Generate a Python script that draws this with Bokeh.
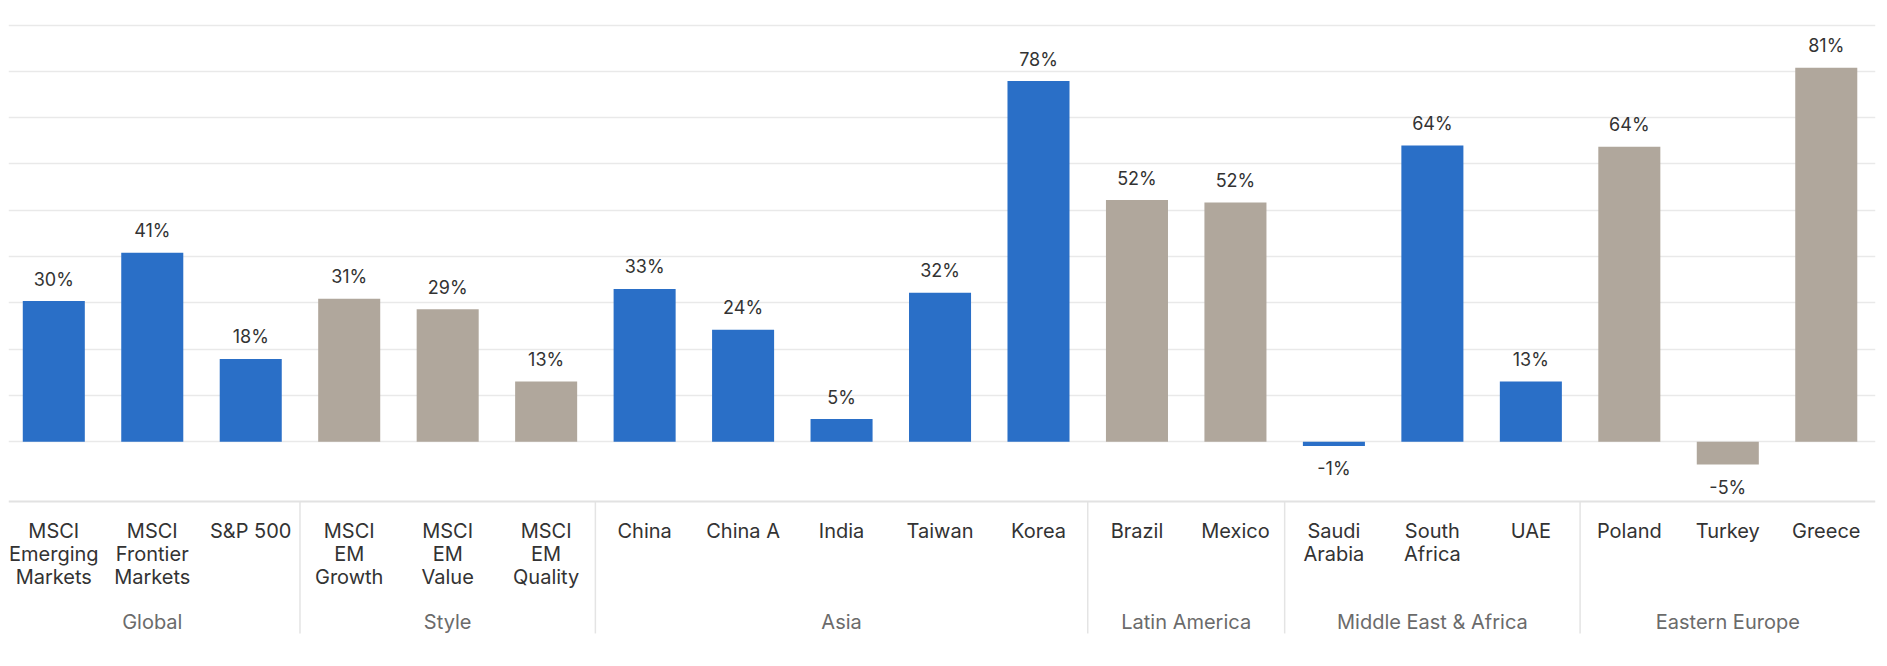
import numpy as np
from bokeh.plotting import figure
from bokeh.models import Range1d, Span, Grid, FixedTicker, ColumnDataSource
from bokeh.core.properties import value
from bokeh.embed import file_html
from bokeh.resources import INLINE

# ---- data ----
categories = [
    "MSCI\nEmerging\nMarkets", "MSCI\nFrontier\nMarkets", "S&P 500",
    "MSCI\nEM\nGrowth", "MSCI\nEM\nValue", "MSCI\nEM\nQuality",
    "China", "China A", "India", "Taiwan", "Korea",
    "Brazil", "Mexico",
    "Saudi\nArabia", "South\nAfrica", "UAE",
    "Poland", "Turkey", "Greece",
]
values = [30.4, 40.8, 17.9,
          30.9, 28.6, 13.0,
          33.0, 24.2, 4.9, 32.2, 77.9,
          52.2, 51.7,
          -0.9, 64.0, 13.0,
          63.7, -4.9, 80.8]
groups = ["Global", "Style", "Asia", "Latin America", "Middle East & Africa", "Eastern Europe"]
group_sizes = [3, 3, 5, 2, 3, 3]
group_colors = ["#2A6FC7", "#B0A79C", "#2A6FC7", "#B0A79C", "#2A6FC7", "#B0A79C"]
grid_ticks = [0, 10, 20, 30, 40, 50, 60, 70, 80, 90]

# ---- derived ----
n = len(categories)
xs = [i + 0.5 for i in range(n)]
colors = []
for g, s in enumerate(group_sizes):
    colors += [group_colors[g]] * s
labels = [f"{int(round(v))}%" for v in values]

PX = 4.63  # pixels per percentage point
FONT = value("Inter")

p = figure(width=1880, height=660, output_backend="svg", toolbar_location=None,
           x_range=Range1d(0.04, 19.0), y_range=Range1d(-47.24, 93.58),
           x_axis_location=None, y_axis_location=None,
           min_border_left=8, min_border_right=5, min_border_top=8, min_border_bottom=0,
           outline_line_color=None, background_fill_color="white",
           border_fill_color="white")

# drop default grids, use our own horizontal grid
p.center = [r for r in p.center if not isinstance(r, Grid)]
p.add_layout(Grid(dimension=1, ticker=FixedTicker(ticks=grid_ticks),
                  grid_line_color="#e9e9e9", grid_line_width=1.5))

axis_y = -12.9
p.add_layout(Span(location=axis_y, dimension="width", line_color="#e2e2e2", line_width=2))

src = ColumnDataSource(dict(x=xs, top=values, color=colors, label=labels))
p.vbar(x="x", top="top", bottom=0, width=0.63, fill_color="color", line_color=None, source=src)

pos = [i for i, v in enumerate(values) if v >= 0]
neg = [i for i, v in enumerate(values) if v < 0]
p.text(x=[xs[i] for i in pos], y=[values[i] + 22 / PX for i in pos], text=[labels[i] for i in pos],
       text_align="center", text_baseline="alphabetic", text_font=FONT,
       text_font_size="18px", text_color="#333333")
p.text(x=[xs[i] for i in neg], y=[values[i] - 23 / PX for i in neg], text=[labels[i] for i in neg],
       text_align="center", text_baseline="alphabetic", text_font=FONT,
       text_font_size="18px", text_color="#333333")

# category labels
p.text(x=xs, y=[-16.6] * n, text=categories, text_align="center", text_baseline="top",
       text_font=FONT, text_font_size="20px", text_color="#333333", text_line_height=0.97)

# group labels and separators
bounds = np.cumsum([0] + group_sizes)
gx = [(bounds[i] + bounds[i + 1]) / 2 for i in range(len(groups))]
p.text(x=gx, y=[-39.0] * len(groups), text=groups, text_align="center", text_baseline="middle",
       text_font=FONT, text_font_size="20px", text_color="#6b6b6b")
seps = [float(b) for b in bounds[1:-1]]
p.segment(x0=seps, y0=[axis_y] * len(seps), x1=seps, y1=[-41.4] * len(seps),
          line_color="#e4e4e4", line_width=1.5)

open("out.html", "w").write(file_html(p, INLINE))
